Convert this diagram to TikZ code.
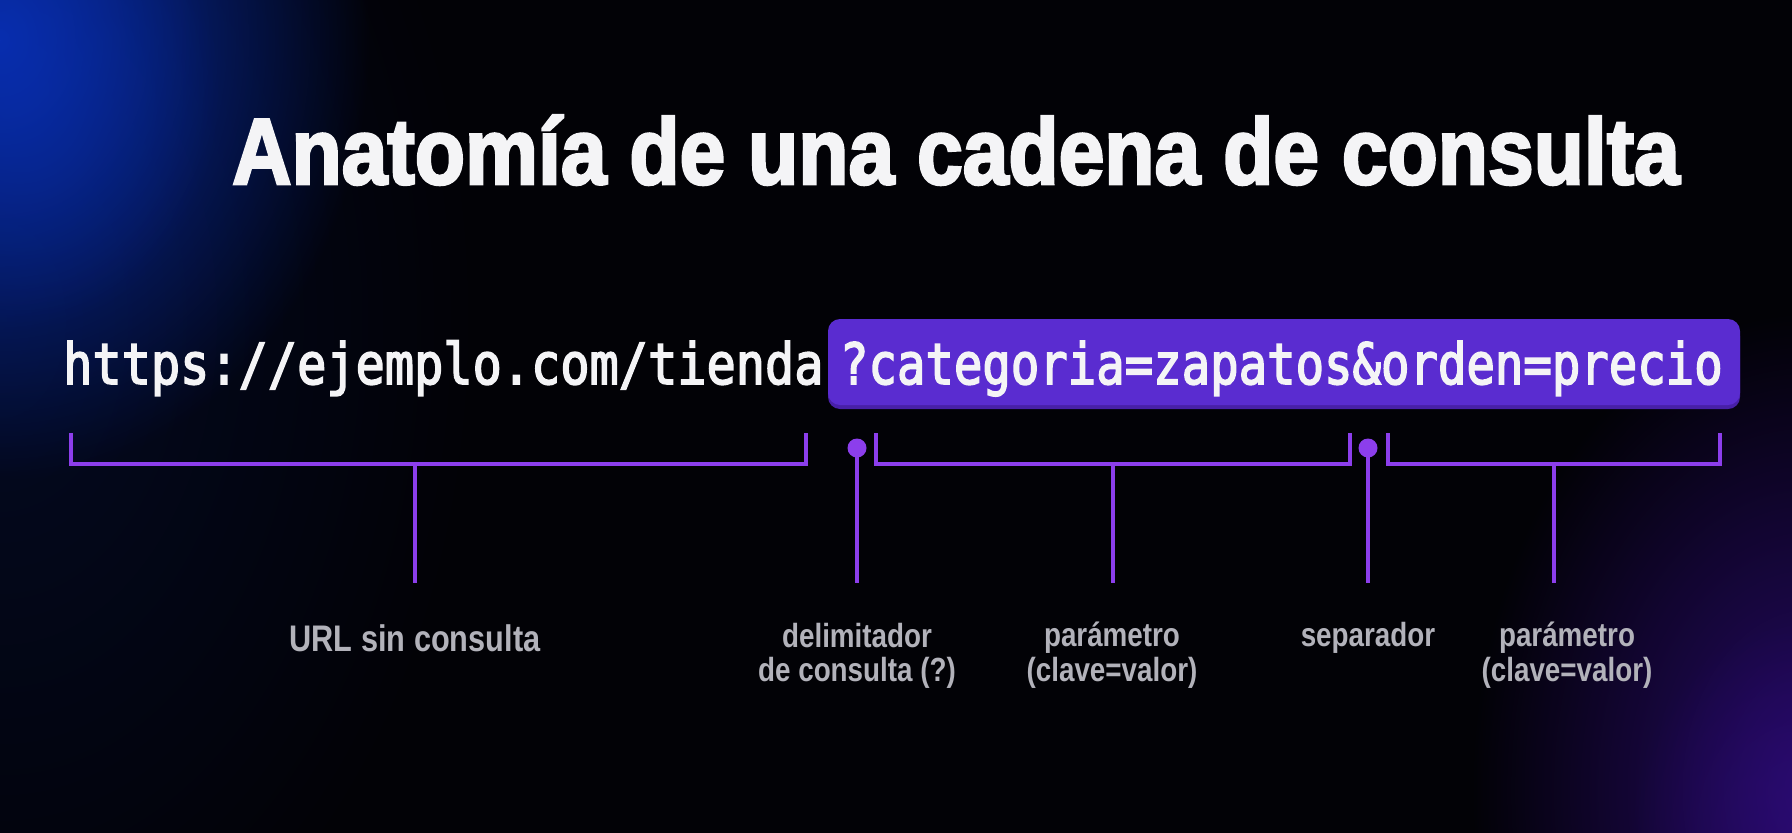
\documentclass[tikz,border=0pt]{standalone}
\usepackage{fontspec}
\usepackage{graphicx}
\setmainfont{Liberation Sans}
\newfontfamily\titlefont[FakeBold=3]{Liberation Sans Bold}
\newfontfamily\urlfont[FakeBold=3]{DejaVu Sans Mono}
\usetikzlibrary{fadings}
\definecolor{bg}{RGB}{2,2,6}
\definecolor{glowblue}{RGB}{8,46,175}
\definecolor{glownavy}{RGB}{6,20,70}
\definecolor{glowpurple}{RGB}{48,12,128}
\definecolor{boxpurple}{RGB}{90,44,208}
\definecolor{boxshadow}{RGB}{72,32,168}
\definecolor{linepurple}{RGB}{140,62,236}
\definecolor{lblgray}{RGB}{178,178,186}
\definecolor{txtwhite}{RGB}{244,244,246}
\tikzfading[name=glowfade, inner color=transparent!0, outer color=transparent!100]
\newcommand{\lbltext}[1]{\scalebox{0.83}[1]{\fontsize{33.5pt}{36pt}\selectfont\bfseries #1}}
\begin{document}
\begin{tikzpicture}[x=1pt,y=-1pt,
  brk/.style={draw=linepurple, line width=4pt, line cap=butt, line join=miter},
  dotn/.style={circle, fill=linepurple, inner sep=0pt, minimum size=19pt},
  lbl/.style={text=lblgray, inner sep=0pt, anchor=base},
  urltxt/.style={text=txtwhite, inner sep=0pt},
  qbox/.style={fill=boxpurple, rounded corners=12pt, inner sep=0pt}]
% background
\fill[bg] (0,0) rectangle (1792,833);
\useasboundingbox (0,0) rectangle (1792,833);
\begin{scope}
\clip (0,0) rectangle (1792,833);
\fill[glownavy, path fading=glowfade, opacity=0.45] (0,320) ellipse [x radius=480, y radius=720];
\fill[glowblue, path fading=glowfade] (0,40) ellipse [x radius=370, y radius=440];
\fill[glowblue, path fading=glowfade, opacity=0.5] (20,90) ellipse [x radius=200, y radius=240];
\fill[glowpurple, path fading=glowfade, opacity=0.8] (1810,790) ellipse [x radius=340, y radius=480];
\fill[glowpurple, path fading=glowfade, opacity=0.5] (1800,830) ellipse [x radius=170, y radius=210];
\end{scope}
% title
\node[text=txtwhite, inner sep=0pt, anchor=base west] (title) at (232,184)
  {\scalebox{0.878}[1]{\titlefont\fontsize{93.6pt}{100pt}\selectfont Anatomía de una cadena de consulta}};
% query box
\fill[boxshadow, rounded corners=12pt] (828,324) rectangle (1740,409);
\node[qbox, minimum width=912pt, minimum height=86pt] (box) at (1284,362) {};
% url texts
\node[urltxt, anchor=base west] (url) at (63,384)
  {\scalebox{1.027}[1.2]{\urlfont\fontsize{47.3pt}{50pt}\selectfont https://ejemplo.com/tienda}};
\node[urltxt, anchor=base east] (query) at (1723,384)
  {\scalebox{1}[1.2]{\urlfont\fontsize{47.3pt}{50pt}\selectfont ?categoria=zapatos\&orden=precio}};
% bracket 1
\coordinate (b1l) at (71,433);
\coordinate (b1r) at (806,433);
\coordinate (b1m) at (415,464);
\coordinate (b1e) at (415,583);
\draw[brk] (b1l) |- (b1r |- b1m) -- (b1r);
\draw[brk] (b1m) -- (b1e);
% delimiter dot
\node[dotn] (d1) at (857,448) {};
\coordinate (d1e) at (857,583);
\draw[brk] (d1.center) -- (d1e);
% bracket 2
\coordinate (b2l) at (876,433);
\coordinate (b2r) at (1350,433);
\coordinate (b2m) at (1113,464);
\coordinate (b2e) at (1113,583);
\draw[brk] (b2l) |- (b2r |- b2m) -- (b2r);
\draw[brk] (b2m) -- (b2e);
% separator dot
\node[dotn] (d2) at (1368,448) {};
\coordinate (d2e) at (1368,583);
\draw[brk] (d2.center) -- (d2e);
% bracket 3
\coordinate (b3l) at (1388,433);
\coordinate (b3r) at (1720,433);
\coordinate (b3m) at (1554,464);
\coordinate (b3e) at (1554,583);
\draw[brk] (b3l) |- (b3r |- b3m) -- (b3r);
\draw[brk] (b3m) -- (b3e);
% labels
\node[lbl] (l1) at (415,651)
  {\scalebox{0.83}[1]{\fontsize{37pt}{40pt}\selectfont\bfseries URL sin consulta}};
\node[lbl] (l2a) at (857,647) {\lbltext{delimitador}};
\node[lbl] (l2b) at (857,681) {\lbltext{de consulta (?)}};
\node[lbl] (l3a) at (1112,646) {\lbltext{parámetro}};
\node[lbl] (l3b) at (1112,681) {\lbltext{(clave=valor)}};
\node[lbl] (l4) at (1368,646) {\lbltext{separador}};
\node[lbl] (l5a) at (1567,646) {\lbltext{parámetro}};
\node[lbl] (l5b) at (1567,681) {\lbltext{(clave=valor)}};
\end{tikzpicture}
\end{document}
